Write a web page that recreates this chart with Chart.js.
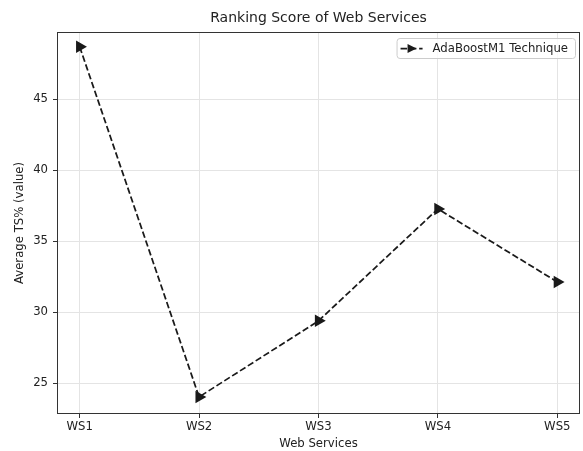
<!DOCTYPE html>
<html lang="en">
<head>
  <meta charset="UTF-8" />
  <title>Ranking Score of Web Services</title>
  <script src="https://cdn.jsdelivr.net/npm/chart.js"></script>
  <style>
    html, body { margin: 0; padding: 0; background: #fff; }
    #wrap { width: 583px; height: 451px; }
  </style>
</head>
<body>
  <div id="wrap"><canvas id="chart" width="583" height="451"></canvas></div>

  <script>
    const services = ['WS1', 'WS2', 'WS3', 'WS4', 'WS5'];
    const tsValues = [48.68, 24.02, 29.38, 37.26, 32.12];
    const yTicks = [25, 30, 35, 40, 45];
    const seriesName = 'AdaBoostM1 Technique';

    const FONT = "'DejaVu Sans', sans-serif";
    const INK = '#1a1a1a';

    // full frame around the plot + matplotlib-like legend
    const framePlugin = {
      id: 'frame',
      afterDraw(chart) {
        const { ctx, chartArea: a } = chart;
        ctx.save();
        ctx.strokeStyle = '#333';
        ctx.lineWidth = 1;
        ctx.strokeRect(Math.round(a.left) + 0.5, Math.round(a.top) + 0.5,
                       Math.round(a.right - a.left) - 1, Math.round(a.bottom - a.top) - 1);

        // legend
        ctx.font = '11.7px ' + FONT;
        const tw = ctx.measureText(seriesName).width;
        const right = a.right - 5, top = a.top + 6, h = 20;
        const left = right - tw - 43;
        ctx.fillStyle = 'rgba(255,255,255,0.8)';
        ctx.strokeStyle = '#ccc';
        ctx.beginPath();
        ctx.roundRect(left + 0.5, top + 0.5, right - left, h, 3);
        ctx.fill();
        ctx.stroke();
        const cy = top + h / 2 + 0.5;
        ctx.strokeStyle = INK;
        ctx.lineWidth = 1.75;
        ctx.setLineDash([6.5, 2.8]);
        ctx.beginPath();
        ctx.moveTo(left + 4, cy);
        ctx.lineTo(left + 26, cy);
        ctx.stroke();
        ctx.setLineDash([]);
        ctx.fillStyle = INK;
        ctx.beginPath();
        ctx.moveTo(left + 11, cy - 4.5);
        ctx.lineTo(left + 20, cy);
        ctx.lineTo(left + 11, cy + 4.5);
        ctx.closePath();
        ctx.fill();
        ctx.fillStyle = '#222';
        ctx.textBaseline = 'middle';
        ctx.textAlign = 'left';
        ctx.fillText(seriesName, left + 36, cy);
        ctx.restore();
      }
    };

    new Chart(document.getElementById('chart'), {
      type: 'line',
      data: {
        datasets: [{
          label: seriesName,
          data: tsValues.map((v, i) => ({ x: i, y: v })),
          borderColor: INK,
          backgroundColor: INK,
          borderWidth: 1.75,
          borderDash: [6.5, 2.8],
          pointStyle: 'triangle',
          rotation: 90,
          pointRadius: 5.5,
          pointHoverRadius: 5.5,
          tension: 0
        }]
      },
      options: {
        responsive: false,
        animation: false,
        layout: { autoPadding: false, padding: { left: 0, right: 3, top: 0, bottom: 0 } },
        plugins: {
          legend: { display: false },
          tooltip: { enabled: false },
          title: {
            display: true,
            text: 'Ranking Score of Web Services',
            fullSize: false,
            color: '#222',
            font: { family: FONT, size: 14, weight: 'normal', lineHeight: 1.2 },
            padding: { top: 10, bottom: 5.2 }
          }
        },
        scales: {
          x: {
            type: 'linear',
            min: -0.19,
            max: 4.19,
            afterBuildTicks: s => { s.ticks = services.map((_, i) => ({ value: i })); },
            afterFit: s => { s.height = 37; s.paddingLeft = 0; s.paddingRight = 0; },
            ticks: {
              callback: v => services[v],
              color: '#222',
              font: { family: FONT, size: 11.7 },
              padding: 2,
              maxRotation: 0
            },
            grid: { color: '#e4e4e4', tickColor: '#333', tickLength: 4 },
            border: { display: false },
            title: {
              display: true,
              text: 'Web Services',
              color: '#222',
              font: { family: FONT, size: 11.7, lineHeight: 1.2 },
              padding: { top: 2, bottom: 0 }
            }
          },
          y: {
            min: 22.82,
            max: 49.72,
            afterBuildTicks: s => { s.ticks = yTicks.map(v => ({ value: v })); },
            afterFit: s => { s.width = 57; },
            ticks: {
              color: '#222',
              font: { family: FONT, size: 11.7 },
              padding: 5
            },
            grid: { color: '#e4e4e4', tickColor: '#333', tickLength: 4 },
            border: { display: false },
            title: {
              display: true,
              text: 'Average TS% (value)',
              color: '#222',
              font: { family: FONT, size: 11.7, lineHeight: 1.2 },
              padding: { top: 13, bottom: 0 }
            }
          }
        }
      },
      plugins: [framePlugin]
    });
  </script>
</body>
</html>
